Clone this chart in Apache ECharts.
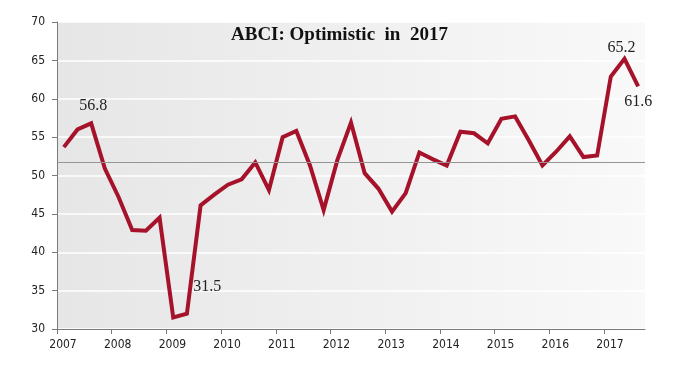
<!DOCTYPE html>
<html>
<head>
<meta charset="utf-8">
<script src="https://cdn.jsdelivr.net/npm/echarts@6/dist/echarts.min.js"></script>
<style>
html,body{margin:0;padding:0;background:#fff;}
#c{width:689px;height:371px;}
</style>
</head>
<body>
<div id="c"></div>
<script>
// Quarterly ABCI readings, 2007Q1 .. 2017Q3
const quarters = [
  '2007Q1','2007Q2','2007Q3','2007Q4',
  '2008Q1','2008Q2','2008Q3','2008Q4',
  '2009Q1','2009Q2','2009Q3','2009Q4',
  '2010Q1','2010Q2','2010Q3','2010Q4',
  '2011Q1','2011Q2','2011Q3','2011Q4',
  '2012Q1','2012Q2','2012Q3','2012Q4',
  '2013Q1','2013Q2','2013Q3','2013Q4',
  '2014Q1','2014Q2','2014Q3','2014Q4',
  '2015Q1','2015Q2','2015Q3','2015Q4',
  '2016Q1','2016Q2','2016Q3','2016Q4',
  '2017Q1','2017Q2','2017Q3'
];
const abci = [
  53.7, 56.0, 56.8, 50.9,
  47.2, 42.9, 42.8, 44.5,
  31.5, 32.0, 46.1, 47.5,
  48.8, 49.5, 51.7, 48.1,
  55.0, 55.8, 51.3, 45.5,
  52.0, 56.9, 50.3, 48.3,
  45.3, 47.7, 53.0, 52.1,
  51.3, 55.7, 55.5, 54.2,
  57.4, 57.7, 54.6, 51.3,
  53.1, 55.1, 52.4, 52.6,
  62.9, 65.2, 61.6
];
const referenceLevel = 51.7;
const yearTicks = [2007,2008,2009,2010,2011,2012,2013,2014,2015,2016,2017];
const yTicks = [30,35,40,45,50,55,60,65,70];
const titleText = 'ABCI: Optimistic  in  2017';
const annotated = { '2007Q3': '56.8', '2009Q1': '31.5', '2017Q2': '65.2', '2017Q3': '61.6' };

const labelStyles = {
  '2007Q3': { position: 'top', offset: [2, -5] },
  '2009Q1': { position: 'top', offset: [34, -18] },
  '2017Q2': { position: 'top', offset: [-3, 2] },
  '2017Q3': { position: 'bottom', offset: [0, 2] }
};

function qToX(q) {
  const y = parseInt(q.slice(0, 4), 10);
  const n = parseInt(q.slice(5), 10);
  return y + (n - 0.5) / 4;
}

const seriesData = quarters.map((q, i) => {
  const item = { value: [qToX(q), abci[i]] };
  if (annotated[q]) {
    item.label = Object.assign({
      show: true,
      formatter: annotated[q],
      fontFamily: '"Liberation Serif","Times New Roman",serif',
      fontSize: 16,
      color: '#222'
    }, labelStyles[q]);
  }
  return item;
});

const chart = echarts.init(document.getElementById('c'), null, { renderer: 'canvas' });
const axisFont = '"Liberation Sans Narrow","DejaVu Sans Condensed","Liberation Sans",sans-serif';
chart.setOption({
  animation: false,
  backgroundColor: '#fff',
  title: {
    text: titleText,
    left: 226,
    top: 21,
    textStyle: {
      fontFamily: '"Liberation Serif","Times New Roman",serif',
      fontWeight: 'bold',
      fontSize: 19,
      color: '#111'
    }
  },
  grid: {
    left: 57, right: 44, top: 22, bottom: 42,
    show: true,
    borderWidth: 0,
    backgroundColor: new echarts.graphic.LinearGradient(0, 0, 1, 0, [
      { offset: 0, color: '#e6e6e6' },
      { offset: 1, color: '#f9f9f9' }
    ])
  },
  xAxis: {
    type: 'value',
    min: 2007,
    max: 2017.75,
    interval: 1,
    axisLine: { show: true, onZero: false, lineStyle: { color: '#7a7a7a', width: 1 } },
    axisTick: { show: true, length: 5, customValues: yearTicks, lineStyle: { color: '#7a7a7a' } },
    axisLabel: {
      customValues: yearTicks,
      formatter: v => String(Math.round(v)),
      fontFamily: axisFont,
      fontSize: 12,
      color: '#222',
      margin: 10,
      padding: [0, 0, 0, 12]
    },
    splitLine: { show: false }
  },
  yAxis: {
    type: 'value',
    min: 30,
    max: 70,
    interval: 5,
    axisLine: { show: true, lineStyle: { color: '#7a7a7a', width: 1 } },
    axisTick: { show: true, length: 5, lineStyle: { color: '#7a7a7a' } },
    axisLabel: {
      fontFamily: axisFont,
      fontSize: 12,
      color: '#222',
      margin: 12
    },
    splitLine: { show: true, lineStyle: { color: '#ffffff', width: 1.5 } }
  },
  series: [{
    type: 'line',
    data: seriesData,
    showSymbol: true,
    symbol: 'circle',
    symbolSize: 0,
    itemStyle: { color: '#a5122a' },
    lineStyle: { color: '#a5122a', width: 4, join: 'miter' },
    label: { show: false },
    emphasis: { disabled: true },
    markLine: {
      silent: true,
      symbol: 'none',
      label: { show: false },
      lineStyle: { color: '#959595', width: 1, type: 'solid' },
      data: [{ yAxis: referenceLevel }]
    },
    z: 3
  }]
});
</script>
</body>
</html>
